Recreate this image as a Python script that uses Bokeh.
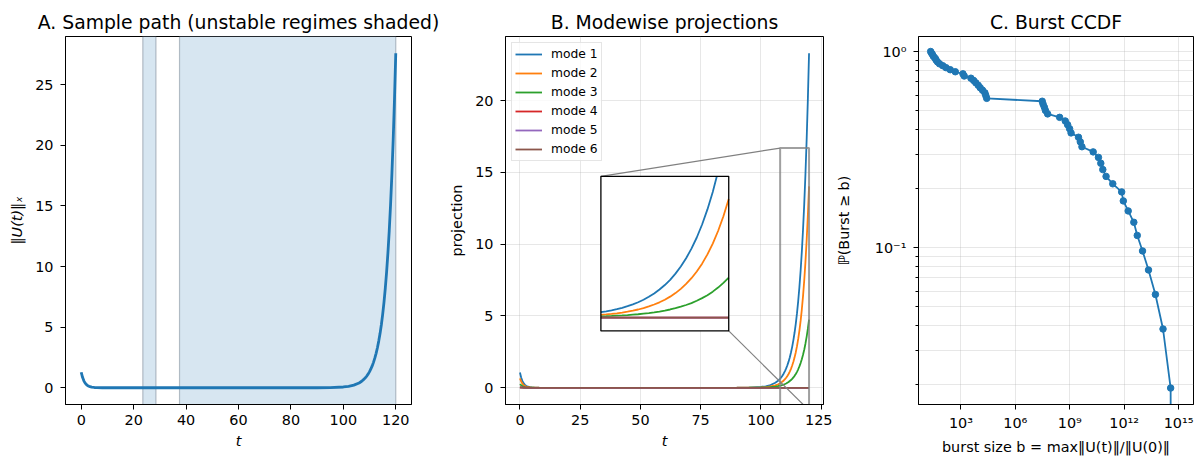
import numpy as np
from bokeh.plotting import figure
from bokeh.layouts import row
from bokeh.models import (Range1d, SingleIntervalTicker, FixedTicker, BoxAnnotation,
                          CustomJSTickFormatter)
from bokeh.embed import file_html
from bokeh.resources import INLINE

# ---------------- data ----------------
T = [0, 0.5, 1, 1.5, 2, 2.5, 3, 4, 5, 6, 8, 10,
     20, 30, 40, 50, 60, 70, 80, 90,
     95, 100, 102, 104, 106, 107,
     108, 108.5, 109, 109.5, 110, 110.5, 111, 111.5, 112, 112.5, 113, 113.5,
     114, 114.5, 115, 115.5, 116, 116.5, 117, 117.5, 118, 118.5, 119, 119.5, 120]

NORM = [1.28, 0.863, 0.573, 0.386, 0.26, 0.174, 0.119, 0.052, 0.024, 0.01, 0.002, 0,
        0, 0, 0, 0, 0, 0, 0, 0.003,
        0.014, 0.065, 0.118, 0.216, 0.397, 0.535,
        0.731, 0.847, 0.986, 1.146, 1.332, 1.55, 1.805, 2.096, 2.44, 2.843, 3.30, 3.85,
        4.47, 5.20, 6.06, 7.05, 8.21, 9.54, 11.11, 12.93, 15.05, 17.52, 20.38, 23.72, 27.6]

UNSTABLE_START = [23.5, 37.5]
UNSTABLE_END = [28.5, 120.0]

MODE1 = [1.07, 0.72, 0.48, 0.32, 0.22, 0.145, 0.10, 0.044, 0.02, 0.009, 0.002, 0,
         0, 0, 0, 0, 0, 0, 0, 0.003,
         0.013, 0.058, 0.105, 0.19, 0.35, 0.47,
         0.64, 0.74, 0.86, 1.00, 1.16, 1.35, 1.57, 1.82, 2.11, 2.46, 2.85, 3.32,
         3.85, 4.47, 5.20, 6.04, 7.02, 8.15, 9.47, 11.01, 12.79, 14.86, 17.26, 20.05, 23.3]
MODE2 = [0.65, 0.44, 0.29, 0.20, 0.13, 0.09, 0.06, 0.027, 0.012, 0.005, 0.001, 0,
         0, 0, 0, 0, 0, 0, 0, 0.001,
         0.005, 0.026, 0.048, 0.091, 0.17, 0.23,
         0.32, 0.375, 0.44, 0.51, 0.60, 0.70, 0.82, 0.96, 1.13, 1.32, 1.55, 1.81,
         2.12, 2.48, 2.90, 3.40, 3.98, 4.66, 5.45, 6.38, 7.47, 8.75, 10.24, 11.99, 14.03]
MODE3 = [0.26, 0.18, 0.12, 0.08, 0.05, 0.035, 0.025, 0.01, 0.005, 0.002, 0, 0,
         0, 0, 0, 0, 0, 0, 0, 0,
         0.003, 0.014, 0.026, 0.046, 0.08, 0.11,
         0.146, 0.17, 0.195, 0.23, 0.26, 0.30, 0.35, 0.40, 0.47, 0.54, 0.62, 0.72,
         0.83, 0.96, 1.11, 1.29, 1.49, 1.72, 1.99, 2.30, 2.65, 3.07, 3.55, 4.10, 4.74]
MODE4 = [0.05, 0.03, 0.02, 0.01, 0.005, 0.003, 0.002, 0.001] + [0] * 43
MODE5 = [0.03, 0.015, 0.008, 0.004, 0.002, 0.001] + [0] * 45
MODE6 = [0.02, 0.01, 0.005, 0.002, 0.001] + [0] * 46
MODES = [MODE1, MODE2, MODE3, MODE4, MODE5, MODE6]
MODE_NAMES = ["mode 1", "mode 2", "mode 3", "mode 4", "mode 5", "mode 6"]

ZOOM_T = (108.0, 120.0)
ZOOM_Y = (-1.57, 16.7)

# burst sizes (log10 b), sorted ascending
BURST_LOG10 = [1.33, 1.38, 1.44, 1.49, 1.58, 1.63, 1.71, 1.82, 2.00, 2.18, 2.41, 2.69,
               3.11, 3.18, 3.55, 3.70, 3.82, 3.95, 4.06, 4.19, 4.32, 4.37, 4.42,
               7.48, 7.53, 7.60, 7.66, 7.78, 8.44, 8.75, 8.88, 8.99, 9.07, 9.48, 9.58,
               9.67, 10.29, 10.58, 10.71, 10.82, 11.00, 11.37, 11.86, 11.95, 12.22,
               12.53, 12.72, 13.01, 13.34, 13.72, 14.14, 14.56, 15.13]

# ---------------- styling ----------------
FONT = "DejaVu Sans"
BLUE = "#1f77b4"
MODE_COLORS = ["#1f77b4", "#ff7f0e", "#2ca02c", "#d62728", "#9467bd", "#8c564b"]
TICK_FS = "14.4px"
LABEL_FS = "14.4px"
TITLE_FS = "18.8px"


def style(p):
    p.title.text_font = FONT
    p.title.text_font_size = TITLE_FS
    p.title.text_font_style = "normal"
    p.title.text_color = "black"
    p.title.align = "center"
    p.title.standoff = 8
    p.outline_line_color = "black"
    p.outline_line_width = 1
    p.background_fill_color = "white"
    p.border_fill_color = "white"
    for ax in p.axis:
        ax.major_label_text_font = FONT
        ax.major_label_text_font_size = TICK_FS
        ax.major_label_text_color = "black"
        ax.axis_label_text_font = FONT
        ax.axis_label_text_font_size = LABEL_FS
        ax.axis_label_text_color = "black"
        ax.axis_label_text_font_style = "normal"
        ax.axis_line_color = "black"
        ax.major_tick_line_color = "black"
        ax.major_tick_out = 5
        ax.major_tick_in = 0
        ax.minor_tick_out = 0
        ax.minor_tick_in = 0
    for ax in p.xaxis:
        ax.major_label_standoff = 5
        ax.axis_label_standoff = 5
    for ax in p.yaxis:
        ax.major_label_standoff = 7
        ax.axis_label_standoff = 7


common = dict(frame_height=368, min_border_top=36, min_border_bottom=49,
              toolbar_location=None, output_backend="svg")

# ---------------- panel A ----------------
pA = figure(frame_width=346, min_border_left=65, min_border_right=34,
            x_range=Range1d(-6, 126), y_range=Range1d(-1.38, 28.98),
            title="A. Sample path (unstable regimes shaded)", **common)
for s, e in zip(UNSTABLE_START, UNSTABLE_END):
    pA.add_layout(BoxAnnotation(left=s, right=e, fill_color=BLUE, fill_alpha=0.18,
                                line_color="#7f8c99", line_alpha=0.55, line_width=1.2,
                                level="underlay"))
pA.line(T, NORM, line_color=BLUE, line_width=2.8)
style(pA)
pA.xgrid.grid_line_color = None
pA.ygrid.grid_line_color = None
pA.xaxis.ticker = SingleIntervalTicker(interval=20)
pA.yaxis.ticker = SingleIntervalTicker(interval=5)
pA.xaxis.axis_label = "t"
pA.xaxis.axis_label_text_font_style = "italic"
pA.yaxis.axis_label = "\u2016U(t)\u2016\u2093"
pA.yaxis.axis_label_text_font_style = "italic"

# ---------------- panel B ----------------
XB = (-6.0, 126.0)
YB = (-1.165, 24.47)
pB = figure(frame_width=318, min_border_left=60, min_border_right=9,
            x_range=Range1d(*XB), y_range=Range1d(*YB),
            title="B. Modewise projections", **common)
for vals, col, name in zip(MODES, MODE_COLORS, MODE_NAMES):
    pB.line(T, vals, line_color=col, line_width=1.8, legend_label=name)

# zoom indicator
pB.quad(left=[ZOOM_T[0]], right=[ZOOM_T[1]], bottom=[ZOOM_Y[0]], top=[ZOOM_Y[1]],
        fill_alpha=0, line_color="#808080", line_alpha=0.75, line_width=2)

# inset box in axes fractions
INSET = (0.30, 0.20, 0.402, 0.42)
bx0 = XB[0] + INSET[0] * (XB[1] - XB[0])
bx1 = XB[0] + (INSET[0] + INSET[2]) * (XB[1] - XB[0])
by0 = YB[0] + INSET[1] * (YB[1] - YB[0])
by1 = YB[0] + (INSET[1] + INSET[3]) * (YB[1] - YB[0])

pB.segment(x0=[bx0, bx1], y0=[by1, by0], x1=[ZOOM_T[0], ZOOM_T[1]], y1=[ZOOM_Y[1], ZOOM_Y[0]],
           line_color="#808080", line_width=1.2)
pB.quad(left=[bx0], right=[bx1], bottom=[by0], top=[by1], fill_color="white",
        line_color=None)


def clip_top(ts, vs, top):
    xs, ys = [], []
    for i, (t, v) in enumerate(zip(ts, vs)):
        if v <= top:
            xs.append(t)
            ys.append(v)
        else:
            if i > 0 and vs[i - 1] <= top:
                t0, v0 = ts[i - 1], vs[i - 1]
                f = (top - v0) / (v - v0)
                xs.append(t0 + f * (t - t0))
                ys.append(top)
            break
    return xs, ys


Tarr = np.array(T, dtype=float)
sel = Tarr >= ZOOM_T[0]
for vals, col in zip(MODES, MODE_COLORS):
    ts = list(Tarr[sel])
    vs = list(np.array(vals, dtype=float)[sel])
    xs, ys = clip_top(ts, vs, ZOOM_Y[1])
    xs = bx0 + (np.array(xs) - ZOOM_T[0]) / (ZOOM_T[1] - ZOOM_T[0]) * (bx1 - bx0)
    ys = by0 + (np.array(ys) - ZOOM_Y[0]) / (ZOOM_Y[1] - ZOOM_Y[0]) * (by1 - by0)
    pB.line(xs, ys, line_color=col, line_width=1.8)
pB.quad(left=[bx0], right=[bx1], bottom=[by0], top=[by1], fill_alpha=0,
        line_color="black", line_width=1.3)

style(pB)
pB.xaxis.ticker = SingleIntervalTicker(interval=25)
pB.yaxis.ticker = SingleIntervalTicker(interval=5)
pB.xgrid.ticker = pB.xaxis[0].ticker
pB.ygrid.ticker = pB.yaxis[0].ticker
for g in (pB.xgrid, pB.ygrid):
    g.grid_line_color = "#b0b0b0"
    g.grid_line_alpha = 0.3
pB.xaxis.axis_label = "t"
pB.xaxis.axis_label_text_font_style = "italic"
pB.yaxis.axis_label = "projection"

lg = pB.legend[0]
lg.location = "top_left"
lg.margin = 6
lg.padding = 3
lg.spacing = 3
lg.glyph_height = 16
lg.label_height = 16
lg.glyph_width = 27
lg.label_standoff = 9
lg.label_text_font = FONT
lg.label_text_font_size = "12.3px"
lg.label_text_color = "black"
lg.border_line_color = "#cccccc"
lg.border_line_width = 1
lg.background_fill_alpha = 0.8

# ---------------- panel C ----------------
n = len(BURST_LOG10)
burst = 10.0 ** np.array(BURST_LOG10)
ccdf = (n - 1 - np.arange(n)) / (n - 1)
ccdf_line = np.where(ccdf > 0, ccdf, 1e-30)

pC = figure(frame_width=275, min_border_left=85, min_border_right=1,
            x_axis_type="log", y_axis_type="log",
            x_range=Range1d(10 ** 0.66, 10 ** 15.82), y_range=Range1d(10 ** -1.80, 10 ** 0.0765),
            title="C. Burst CCDF", **common)
pC.line(burst, ccdf_line, line_color=BLUE, line_width=1.8)
pC.scatter(burst[ccdf > 0], ccdf[ccdf > 0], size=6.5, fill_color=BLUE, line_color=BLUE)
style(pC)

xt = FixedTicker(ticks=[1e3, 1e6, 1e9, 1e12, 1e15], minor_ticks=[])
yminor = [m * 0.01 for m in range(2, 10)] + [m * 0.1 for m in range(2, 10)]
yt = FixedTicker(ticks=[0.1, 1.0], minor_ticks=yminor)
pC.xaxis.ticker = xt
pC.yaxis.ticker = yt
pC.xgrid.ticker = xt
pC.ygrid.ticker = yt
sup_fmt = CustomJSTickFormatter(code="""
const e = Math.round(Math.log10(tick));
const sup = {"-":"\u207b","0":"\u2070","1":"\u00b9","2":"\u00b2","3":"\u00b3","4":"\u2074","5":"\u2075","6":"\u2076","7":"\u2077","8":"\u2078","9":"\u2079"};
return "10" + String(e).split("").map(c => sup[c]).join("");
""")
pC.xaxis.formatter = sup_fmt
pC.yaxis.formatter = sup_fmt
pC.yaxis.minor_tick_out = 3
pC.yaxis.minor_tick_line_color = "black"
for g in (pC.xgrid, pC.ygrid):
    g.grid_line_color = "#b0b0b0"
    g.grid_line_alpha = 0.3
pC.ygrid.minor_grid_line_color = "#b0b0b0"
pC.ygrid.minor_grid_line_alpha = 0.3
pC.xaxis.axis_label = "burst size b = max\u2016U(t)\u2016/\u2016U(0)\u2016"
pC.yaxis.axis_label = "\u2119(Burst \u2265 b)"
pC.yaxis.axis_label_standoff = 20

layout = row(pA, pB, pC)
open("out.html", "w").write(file_html(layout, INLINE))
